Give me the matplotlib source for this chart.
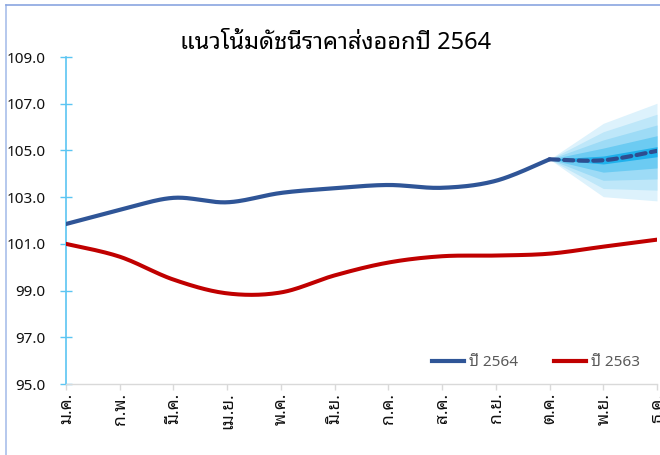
import matplotlib
matplotlib.use("Agg")
import matplotlib.pyplot as plt
from matplotlib import font_manager as fm
from matplotlib.lines import Line2D
import numpy as np

# ---------------- data ----------------
months = ['ม.ค.', 'ก.พ.', 'มี.ค.', 'เม.ย.', 'พ.ค.', 'มิ.ย.',
          'ก.ค.', 'ส.ค.', 'ก.ย.', 'ต.ค.', 'พ.ย.', 'ธ.ค.']
y2564 = [101.85, 102.45, 102.97, 102.78, 103.18, 103.38, 103.52, 103.40, 103.70, 104.62]
forecast_2564 = [104.62, 104.58, 104.98]          # ต.ค. - ธ.ค.
y2563 = [101.0, 100.45, 99.47, 98.88, 98.92, 99.65, 100.2, 100.47, 100.5, 100.58, 100.88, 101.18]
fan_upper = [[104.62, 106.16, 107.02],
             [104.62, 105.80, 106.55],
             [104.62, 105.45, 106.09],
             [104.62, 105.10, 105.63],
             [104.62, 104.76, 105.16]]
fan_lower = [[104.62, 103.02, 102.84],
             [104.62, 103.37, 103.30],
             [104.62, 103.72, 103.78],
             [104.62, 104.07, 104.25],
             [104.62, 104.42, 104.73]]
yticks = [95, 97, 99, 101, 103, 105, 107, 109]
title = 'แนวโน้มดัชนีราคาส่งออกปี 2564'
legend_labels = ['ปี 2564', 'ปี 2563']

# ---------------- fonts ----------------
names = {f.name for f in fm.fontManager.ttflist}
thai = None
for cand in ['Noto Sans Thai Looped', 'IBM Plex Sans Thai Looped', 'Noto Sans Thai',
             'Sarabun', 'Anuphan', 'Bai Jamjuree']:
    if cand in names:
        thai = cand
        break
fams = ([thai] if thai else []) + ['DejaVu Sans']
plt.rcParams['font.family'] = fams


def smooth(x, y, n=24):
    """Catmull-Rom style smoothing like Excel's smoothed line."""
    x = np.asarray(x, float)
    y = np.asarray(y, float)
    px = np.concatenate([[x[0]], x, [x[-1]]])
    py = np.concatenate([[y[0]], y, [y[-1]]])
    xs, ys = [], []
    for i in range(1, len(px) - 2):
        p0, p1, p2, p3 = py[i - 1], py[i], py[i + 1], py[i + 2]
        q0, q1, q2, q3 = px[i - 1], px[i], px[i + 1], px[i + 2]
        t = np.linspace(0, 1, n, endpoint=(i == len(px) - 3))
        m1y, m2y = (p2 - p0) / 2, (p3 - p1) / 2
        m1x, m2x = (q2 - q0) / 2, (q3 - q1) / 2
        h00 = 2 * t**3 - 3 * t**2 + 1
        h10 = t**3 - 2 * t**2 + t
        h01 = -2 * t**3 + 3 * t**2
        h11 = t**3 - t**2
        xs.append(h00 * q1 + h10 * m1x + h01 * q2 + h11 * m2x)
        ys.append(h00 * p1 + h10 * m1y + h01 * p2 + h11 * m2y)
    return np.concatenate(xs), np.concatenate(ys)


fig = plt.figure(figsize=(6.6, 4.55), dpi=100)
ax = fig.add_axes([66 / 660, 1 - 384 / 455, (657 - 66) / 660, (384 - 57) / 455])

x_all = np.arange(len(months))
x_act = x_all[:len(y2564)]
x_fc = x_all[len(y2564) - 1:]

fan_colors = ['#DDF2FC', '#BEE7F9', '#9DDBF6', '#6CCBF2', '#1FB1EC']
for up, lo, c in zip(fan_upper, fan_lower, fan_colors):
    ax.fill_between(x_fc, lo, up, color=c, linewidth=0, zorder=1)

blue = '#2F5597'
red = '#C00000'
sx, sy = smooth(x_all, y2563)
ax.plot(sx, sy, color=red, lw=2.9, solid_capstyle='round', zorder=3)
sx, sy = smooth(x_act, y2564)
ax.plot(sx, sy, color=blue, lw=3.0, solid_capstyle='round', zorder=4)
sx, sy = smooth(x_fc, forecast_2564)
ax.plot(sx, sy, color='#2E4D8F', lw=3.0, ls=(0, (2.2, 1.3)), dash_capstyle='round', zorder=4)

ax.set_xlim(0, len(months) - 1)
ax.set_ylim(95, 109)
ax.set_yticks(yticks)
ax.set_yticklabels([f'{v:.1f}' for v in yticks])
ax.set_xticks(x_all)
ax.set_xticklabels(months, rotation=90, va='top', ha='center')

for s in ['top', 'right']:
    ax.spines[s].set_visible(False)
ax.spines['left'].set_color('#5BC5F2')
ax.spines['left'].set_linewidth(1.2)
ax.spines['bottom'].set_color('#D9D9D9')
ax.spines['bottom'].set_linewidth(1.0)
ax.tick_params(axis='y', direction='inout', length=8.6, width=1.0, color='#5BC5F2',
               pad=10.5, labelsize=11, labelcolor='#111111')
ax.tick_params(axis='x', direction='out', length=4.3, width=1.0, color='#D9D9D9',
               pad=2, labelsize=12.5, labelcolor='#111111')
for lab in ax.get_yticklabels() + ax.get_xticklabels():
    lab.set_fontweight('bold')

handles = [Line2D([], [], color=blue, lw=3.0), Line2D([], [], color=red, lw=3.0)]
fig.legend(handles, legend_labels, loc='center', bbox_to_anchor=(536 / 660, 1 - 363 / 455),
           ncol=2, frameon=False, handlelength=2.1, handletextpad=0.3, columnspacing=2.4,
           prop={'size': 11}, labelcolor='#595959')

fig.text(336 / 660, 1 - 43 / 455, title, ha='center', va='center', fontsize=17,
         fontweight='bold', color='black')

# chart frame lines (left & top)
fig.add_artist(Line2D([6.5 / 660, 6.5 / 660], [0, 1 - 4.5 / 455], transform=fig.transFigure,
                      color='#A9BFEA', lw=1.2))
fig.add_artist(Line2D([6.5 / 660, 1], [1 - 4.5 / 455, 1 - 4.5 / 455], transform=fig.transFigure,
                      color='#8AA6E0', lw=1.2))

fig.savefig('out.png', dpi=100)
